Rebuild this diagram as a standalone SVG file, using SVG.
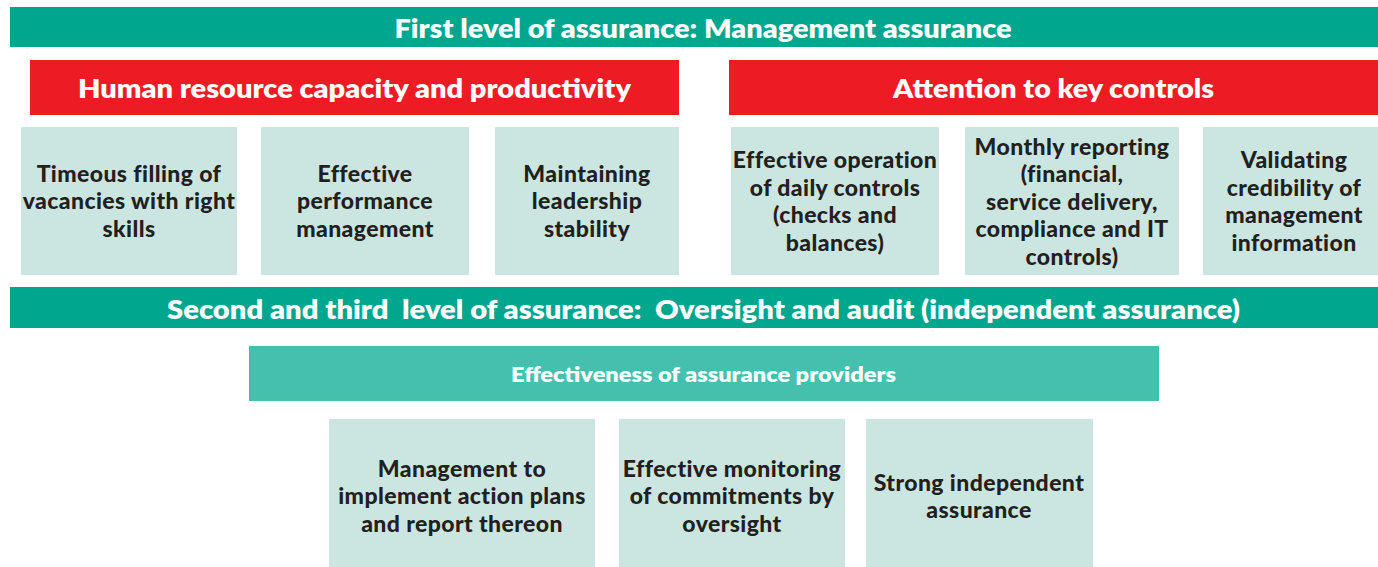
<svg xmlns="http://www.w3.org/2000/svg" width="1378" height="567" viewBox="0 0 1378 567">
  <style>
    .band { fill: #00A68E; }
    .head { fill: #ED1C24; }
    .sub { fill: #45C0AE; }
    .card { fill: #CBE6E0; }
    text { font-family: Lato, "Liberation Sans", sans-serif; font-weight: 700; text-anchor: middle; }
    .t-band { fill: #FFFFFF; font-size: 26px; font-weight: 800; }
    .t-head { fill: #FFFFFF; font-size: 27px; font-weight: 800; }
    .t-sub { fill: #FFFFFF; font-size: 20px; font-weight: 800; }
    .t-card { fill: #231F20; font-size: 23px; font-weight: 900; letter-spacing: 0.4px; }
  </style>
  <rect width="1378" height="567" fill="#FFFFFF"/>

  <!-- First level band -->
  <g id="first-level">
    <rect class="band" x="10" y="7" width="1368" height="40"/>
    <text class="t-band" x="703" y="37.5" textLength="617" lengthAdjust="spacingAndGlyphs">First level of assurance: Management assurance</text>
  </g>

  <!-- Red category headings -->
  <g id="hr-capacity">
    <rect class="head" x="30" y="60" width="649" height="55"/>
    <text class="t-head" x="354.5" y="98" textLength="553" lengthAdjust="spacingAndGlyphs">Human resource capacity and productivity</text>
  </g>
  <g id="key-controls">
    <rect class="head" x="729" y="60" width="649" height="55"/>
    <text class="t-head" x="1053.5" y="98" textLength="321" lengthAdjust="spacingAndGlyphs">Attention to key controls</text>
  </g>

  <!-- Human resource cards -->
  <g id="timeous-filling">
    <rect class="card" x="21" y="127" width="216" height="148"/>
    <text class="t-card" x="129" y="181.5">Timeous filling of</text>
    <text class="t-card" x="129" y="209">vacancies with right</text>
    <text class="t-card" x="129" y="236.5">skills</text>
  </g>
  <g id="performance-management">
    <rect class="card" x="261" y="127" width="208" height="148"/>
    <text class="t-card" x="365" y="181.5">Effective</text>
    <text class="t-card" x="365" y="209">performance</text>
    <text class="t-card" x="365" y="236.5">management</text>
  </g>
  <g id="leadership-stability">
    <rect class="card" x="495" y="127" width="184" height="148"/>
    <text class="t-card" x="587" y="181.5">Maintaining</text>
    <text class="t-card" x="587" y="209">leadership</text>
    <text class="t-card" x="587" y="236.5">stability</text>
  </g>

  <!-- Key control cards -->
  <g id="daily-controls">
    <rect class="card" x="731" y="127" width="208" height="148"/>
    <text class="t-card" x="835" y="168">Effective operation</text>
    <text class="t-card" x="835" y="195.5">of daily controls</text>
    <text class="t-card" x="835" y="223">(checks and</text>
    <text class="t-card" x="835" y="250.5">balances)</text>
  </g>
  <g id="monthly-reporting">
    <rect class="card" x="965" y="127" width="214" height="148"/>
    <text class="t-card" x="1072" y="154.5">Monthly reporting</text>
    <text class="t-card" x="1072" y="182">(financial,</text>
    <text class="t-card" x="1072" y="209.5">service delivery,</text>
    <text class="t-card" x="1072" y="237">compliance and IT</text>
    <text class="t-card" x="1072" y="264.5">controls)</text>
  </g>
  <g id="management-information">
    <rect class="card" x="1203" y="127" width="175" height="148"/>
    <text class="t-card" x="1294" y="168">Validating</text>
    <text class="t-card" x="1294" y="195.5">credibility of</text>
    <text class="t-card" x="1294" y="223">management</text>
    <text class="t-card" x="1294" y="250.5">information</text>
  </g>

  <!-- Second and third level band -->
  <g id="second-third-level">
    <rect class="band" x="10" y="287" width="1368" height="41"/>
    <text class="t-band" x="703.5" y="318.5" textLength="1073" lengthAdjust="spacingAndGlyphs" xml:space="preserve">Second and third  level of assurance:  Oversight and audit (independent assurance)</text>
  </g>

  <g id="assurance-providers">
    <rect class="sub" x="249" y="346" width="910" height="55"/>
    <text class="t-sub" x="703.5" y="382" textLength="385" lengthAdjust="spacingAndGlyphs">Effectiveness of assurance providers</text>
  </g>

  <!-- Assurance provider cards -->
  <g id="action-plans">
    <rect class="card" x="329" y="419" width="266" height="148"/>
    <text class="t-card" x="462" y="476.5">Management to</text>
    <text class="t-card" x="462" y="504">implement action plans</text>
    <text class="t-card" x="462" y="531.5">and report thereon</text>
  </g>
  <g id="monitoring-commitments">
    <rect class="card" x="619" y="419" width="226" height="148"/>
    <text class="t-card" x="732" y="476.5">Effective monitoring</text>
    <text class="t-card" x="732" y="504">of commitments by</text>
    <text class="t-card" x="732" y="531.5">oversight</text>
  </g>
  <g id="independent-assurance">
    <rect class="card" x="866" y="419" width="227" height="148"/>
    <text class="t-card" x="979" y="490.5">Strong independent</text>
    <text class="t-card" x="979" y="518">assurance</text>
  </g>
</svg>
